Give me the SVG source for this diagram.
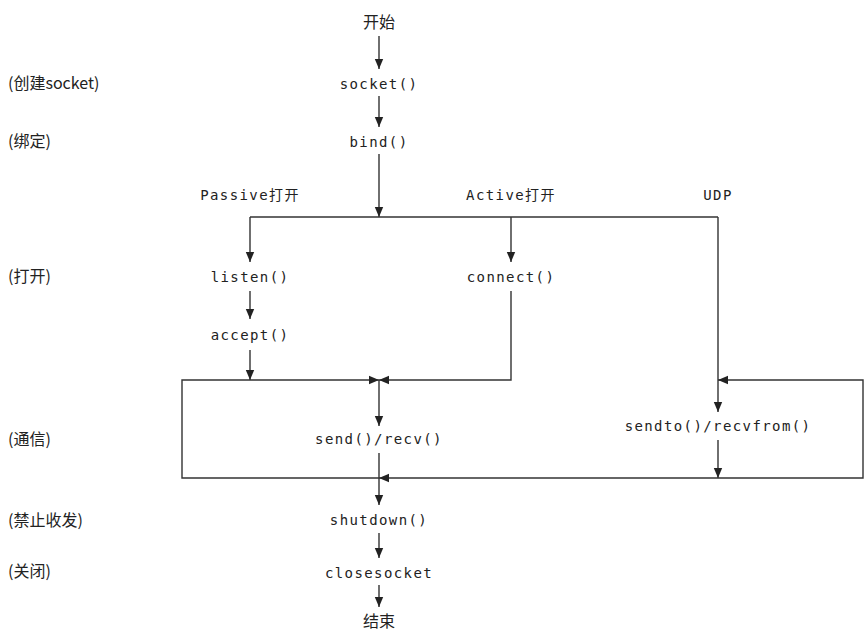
<svg xmlns="http://www.w3.org/2000/svg" width="864" height="633" viewBox="0 0 864 633">
<style>
.code{font-family:"DejaVu Sans Mono","Noto Sans CJK SC",monospace;font-size:14px;letter-spacing:1.4px;fill:#222;text-anchor:middle;dominant-baseline:central}
.cn{font-family:"Noto Sans CJK SC","Noto Sans",sans-serif;font-size:16px;fill:#222;dominant-baseline:central}
.mid{text-anchor:middle}
.ln{stroke:#333;stroke-width:1.4;fill:none}
</style>
<defs>
<marker id="ah" viewBox="0 0 10 10" refX="10" refY="5" markerWidth="10" markerHeight="10" markerUnits="userSpaceOnUse" orient="auto">
<path d="M0,0.8 L10,5 L0,9.2 Z" fill="#222"/>
</marker>
</defs>
<rect width="864" height="633" fill="#fff"/>
<g id="side-labels">
<text class="cn" x="8" y="82">(创建socket)</text>
<text class="cn" x="8" y="140">(绑定)</text>
<text class="cn" x="8" y="275">(打开)</text>
<text class="cn" x="8" y="438">(通信)</text>
<text class="cn" x="8" y="519">(禁止收发)</text>
<text class="cn" x="8" y="570">(关闭)</text>
</g>
<g id="start"><text class="cn mid" x="379" y="21">开始</text></g>
<g id="socket"><text class="code" x="379" y="84">socket()</text></g>
<g id="bind"><text class="code" x="379" y="142">bind()</text></g>
<g id="branch-labels">
<text class="code" x="250" y="195">Passive打开</text>
<text class="code" x="511" y="195">Active打开</text>
<text class="code" x="718" y="195">UDP</text>
</g>
<g id="listen"><text class="code" x="250" y="277">listen()</text></g>
<g id="accept"><text class="code" x="250" y="335">accept()</text></g>
<g id="connect"><text class="code" x="511" y="277">connect()</text></g>
<g id="sendrecv"><text class="code" x="379" y="439">send()/recv()</text></g>
<g id="sendto"><text class="code" x="718" y="426">sendto()/recvfrom()</text></g>
<g id="shutdown"><text class="code" x="379" y="520">shutdown()</text></g>
<g id="closesocket"><text class="code" x="379" y="573">closesocket</text></g>
<g id="end"><text class="cn mid" x="379" y="620">结束</text></g>
<g id="connectors">
<line class="ln" x1="379" y1="36" x2="379" y2="69" marker-end="url(#ah)"/>
<line class="ln" x1="379" y1="96" x2="379" y2="127" marker-end="url(#ah)"/>
<line class="ln" x1="379" y1="154" x2="379" y2="217" marker-end="url(#ah)"/>
<polyline class="ln" points="250,217 718,217"/>
<line class="ln" x1="250" y1="217" x2="250" y2="262" marker-end="url(#ah)"/>
<line class="ln" x1="250" y1="291" x2="250" y2="319" marker-end="url(#ah)"/>
<line class="ln" x1="250" y1="350" x2="250" y2="380" marker-end="url(#ah)"/>
<line class="ln" x1="511" y1="217" x2="511" y2="262" marker-end="url(#ah)"/>
<polyline class="ln" points="511,291 511,380 379,380" marker-end="url(#ah)"/>
<polyline class="ln" points="379,478 182,478 182,380 379,380" marker-end="url(#ah)"/>
<line class="ln" x1="379" y1="380" x2="379" y2="426" marker-end="url(#ah)"/>
<line class="ln" x1="379" y1="453" x2="379" y2="505" marker-end="url(#ah)"/>
<line class="ln" x1="718" y1="217" x2="718" y2="412" marker-end="url(#ah)"/>
<line class="ln" x1="718" y1="440" x2="718" y2="478" marker-end="url(#ah)"/>
<polyline class="ln" points="718,478 863,478 863,380 718,380" marker-end="url(#ah)"/>
<line class="ln" x1="718" y1="478" x2="379" y2="478" marker-end="url(#ah)"/>
<line class="ln" x1="379" y1="533" x2="379" y2="558" marker-end="url(#ah)"/>
<line class="ln" x1="379" y1="585" x2="379" y2="607" marker-end="url(#ah)"/>
</g>
</svg>
